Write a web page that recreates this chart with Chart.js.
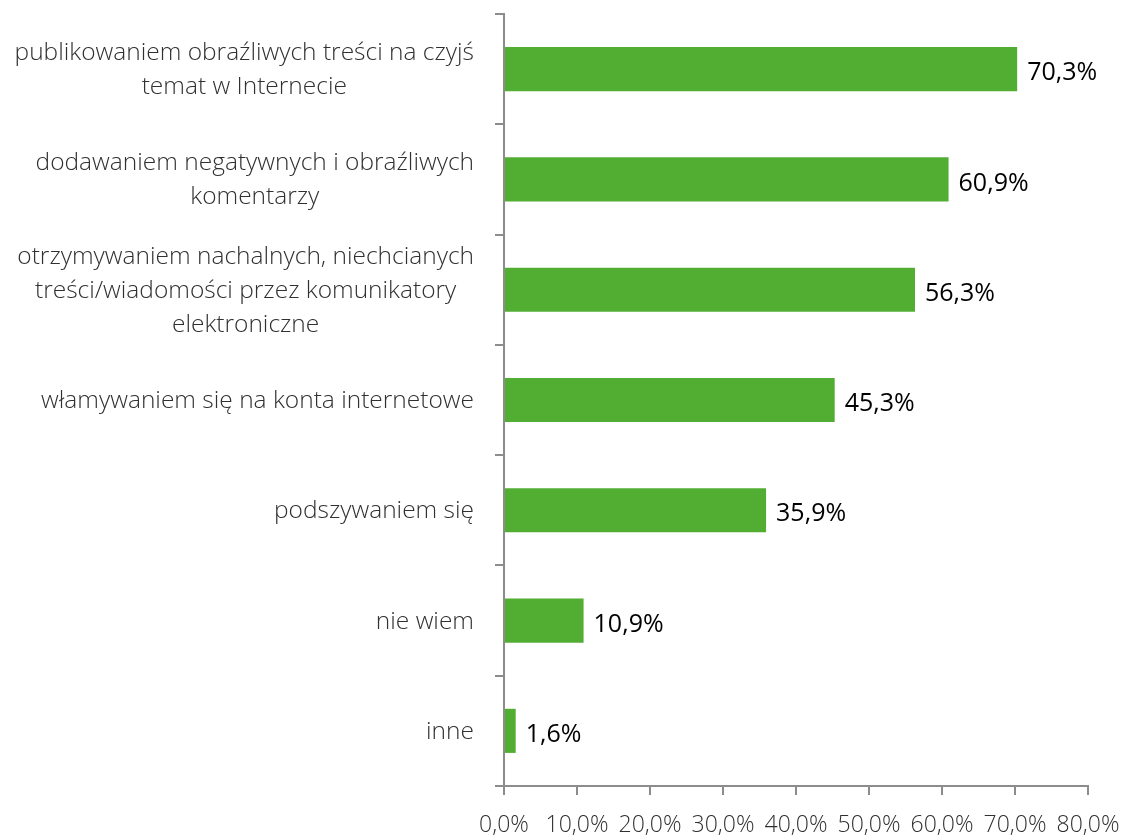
<!DOCTYPE html>
<html>
<head>
<meta charset="utf-8">
<script src="https://cdn.jsdelivr.net/npm/chart.js@4"></script>
<style>
  body { margin: 0; background: #fff; }
  canvas { display: block; }
</style>
</head>
<body>
<canvas id="chart" width="1123" height="836"></canvas>
<script>
// categories (each line of a label is its own string)
const categories = [
  ["publikowaniem obraźliwych treści na czyjś", "temat w Internecie"],
  ["dodawaniem negatywnych i obraźliwych", "komentarzy"],
  ["otrzymywaniem nachalnych, niechcianych", "treści/wiadomości przez komunikatory", "elektroniczne"],
  ["włamywaniem się na konta internetowe"],
  ["podszywaniem się"],
  ["nie wiem"],
  ["inne"]
];
// series values (percent)
const values = [70.3, 60.9, 56.3, 45.3, 35.9, 10.9, 1.6];
// x axis range
const xMin = 0, xMax = 80, xStep = 10;

const FONT = "'Open Sans', 'Noto Sans', sans-serif";
const fmt = v => v.toFixed(1).replace(".", ",") + "%";

// draws the category labels (right aligned block, centred lines) and value labels
const labelPlugin = {
  id: "labels",
  afterDraw(chart) {
    const ctx = chart.ctx;
    const y = chart.scales.y;
    const lineH = 34;
    ctx.save();
    ctx.font = "300 24.5px " + FONT;
    ctx.fillStyle = "#303030";
    ctx.textBaseline = "middle";
    categories.forEach((lines, i) => {
      const cy = y.getPixelForValue(i) + 1;
      const w = Math.max(...lines.map(l => ctx.measureText(l).width));
      const right = y.right - 30;
      const cx = right - w / 2;
      ctx.textAlign = "center";
      lines.forEach((l, j) => {
        ctx.fillText(l, cx, cy + (j - (lines.length - 1) / 2) * lineH);
      });
    });
    // value labels
    const meta = chart.getDatasetMeta(0);
    ctx.font = "25px " + FONT;
    ctx.fillStyle = "#000";
    ctx.textAlign = "left";
    meta.data.forEach((bar, i) => {
      ctx.fillText(fmt(values[i]), bar.x + 10, bar.y + 4);
    });
    ctx.restore();
  }
};

new Chart(document.getElementById("chart").getContext("2d"), {
  type: "bar",
  data: {
    labels: categories,
    datasets: [{
      data: values,
      backgroundColor: "#52AE32",
      barPercentage: 0.4,
      categoryPercentage: 1
    }]
  },
  options: {
    indexAxis: "y",
    responsive: false,
    animation: false,
    layout: { padding: { top: 14, right: 0, left: 0, bottom: 0 } },
    plugins: { legend: { display: false }, tooltip: { enabled: false } },
    scales: {
      x: {
        min: xMin,
        max: xMax,
        ticks: {
          stepSize: xStep,
          callback: v => fmt(v),
          color: "#303030",
          font: { family: FONT, size: 23, weight: 300 },
          padding: 17,
          maxRotation: 0,
          autoSkip: false
        },
        grid: { drawOnChartArea: false, drawTicks: true, tickLength: 9, color: "#8c8c8c", lineWidth: 2 },
        border: { color: "#8c8c8c", width: 2 },
        afterFit(s) { s.height = 50; s.paddingLeft = 0; s.paddingRight = 35; }
      },
      y: {
        ticks: { display: false },
        grid: { offset: true, drawOnChartArea: false, drawTicks: true, tickLength: 9, color: "#8c8c8c", lineWidth: 2 },
        border: { color: "#8c8c8c", width: 2 },
        afterFit(s) { s.width = 504; }
      }
    }
  },
  plugins: [labelPlugin]
});
</script>
</body>
</html>
